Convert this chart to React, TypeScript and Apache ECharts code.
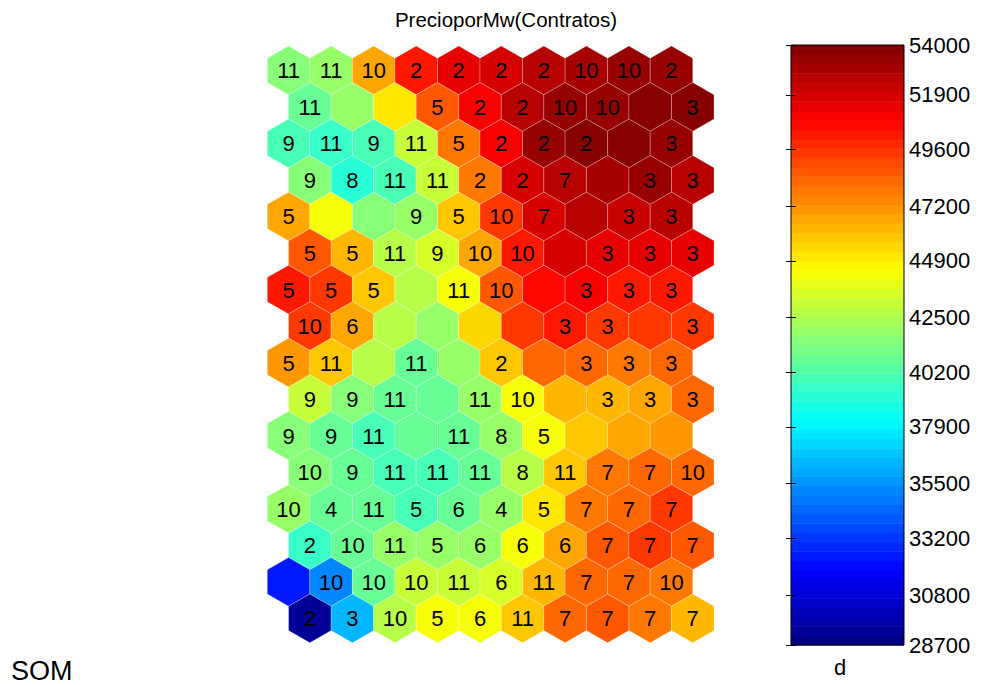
import { useEffect, useRef } from 'react';
import * as echarts from 'echarts';

// Values (d) for each SOM unit, row by row from the top; 10 units per row.
const hexValues: number[][] = [
  [41350, 42140, 46860, 50440, 51620, 52000, 52420, 53000, 53210, 53600],
  [40560, 42140, 45300, 48860, 51230, 52800, 53600, 53600, 53800, 54000],
  [40160, 39380, 40160, 43320, 47675, 51230, 53210, 53800, 54000, 53600],
  [41350, 38980, 40160, 43320, 47675, 52000, 52800, 53000, 53210, 52800],
  [46860, 44120, 41350, 41750, 45700, 49260, 52000, 52420, 52200, 52420],
  [48860, 46460, 42930, 43720, 46860, 50050, 52000, 51430, 51430, 51430],
  [50050, 49260, 46070, 42930, 44512, 48860, 50837, 51030, 50440, 50050],
  [49260, 46860, 42930, 42140, 45500, 49650, 50440, 49650, 49260, 49650],
  [47270, 46070, 42930, 40560, 41750, 46070, 48460, 48460, 47675, 48460],
  [43320, 41350, 40560, 40560, 42140, 44512, 46460, 46460, 46860, 48460],
  [41350, 40950, 40160, 40560, 40950, 41750, 44120, 45700, 46860, 47270],
  [41350, 40560, 40160, 40160, 40950, 42930, 45700, 47675, 48460, 48460],
  [42140, 40950, 40560, 40160, 40950, 42140, 45300, 47675, 48460, 49260],
  [39380, 40560, 41750, 42140, 42140, 44512, 46860, 48860, 49260, 48860],
  [32260, 35420, 40950, 43320, 43320, 43720, 46460, 48460, 48460, 48070],
  [29100, 36220, 42930, 44512, 44120, 45700, 48460, 48860, 48070, 46460],
];

// Hit labels for each unit ("" = no label).
const hexLabels: string[][] = [
  ['11', '11', '10', '2', '2', '2', '2', '10', '10', '2'],
  ['11', '', '', '5', '2', '2', '10', '10', '', '3'],
  ['9', '11', '9', '11', '5', '2', '2', '2', '', '3'],
  ['9', '8', '11', '11', '2', '2', '7', '', '3', '3'],
  ['5', '', '', '9', '5', '10', '7', '', '3', '3'],
  ['5', '5', '11', '9', '10', '10', '', '3', '3', '3'],
  ['5', '5', '5', '', '11', '10', '', '3', '3', '3'],
  ['10', '6', '', '', '', '', '3', '3', '', '3'],
  ['5', '11', '', '11', '', '2', '', '3', '3', '3'],
  ['9', '9', '11', '', '11', '10', '', '3', '3', '3'],
  ['9', '9', '11', '', '11', '8', '5', '', '', ''],
  ['10', '9', '11', '11', '11', '8', '11', '7', '7', '10'],
  ['10', '4', '11', '5', '6', '4', '5', '7', '7', '7'],
  ['2', '10', '11', '5', '6', '6', '6', '7', '7', '7'],
  ['', '10', '10', '10', '11', '6', '11', '7', '7', '10'],
  ['2', '3', '10', '5', '6', '11', '7', '7', '7', '7'],
];

const colorMin = 28700;
const colorMax = 54000;
const colorbarTicks = [28700, 30800, 33200, 35500, 37900, 40200, 42500, 44900, 47200, 49600, 51900, 54000];

const title = 'PrecioporMw(Contratos)';
const NLEVELS = 64;
const FONT = "'Liberation Sans', Arial, Helvetica, sans-serif";

function clamp(v: number) {
  return Math.max(0, Math.min(1, v));
}
function jet(t: number): string {
  const r = clamp(1.5 - Math.abs(4 * t - 3));
  const g = clamp(1.5 - Math.abs(4 * t - 2));
  const b = clamp(1.5 - Math.abs(4 * t - 1));
  const h = (x: number) => Math.round(x * 255).toString(16).padStart(2, '0');
  return '#' + h(r) + h(g) + h(b);
}
function levelColor(idx: number) {
  return jet((idx + 0.5) / NLEVELS);
}
function valueLevel(v: number) {
  const t = (v - colorMin) / (colorMax - colorMin);
  return Math.max(0, Math.min(NLEVELS - 1, Math.floor(t * NLEVELS)));
}

const SQ3 = Math.sqrt(3);
const ROWH = SQ3 / 2;
const RV = 1 / SQ3;

export default function App() {
  const ref = useRef<HTMLDivElement>(null);
  useEffect(() => {
    if (!ref.current) return;
    const chart = echarts.init(ref.current, undefined, { renderer: 'svg' });

    const hexData: any[] = [];
    hexValues.forEach((row, r) => {
      row.forEach((v, c) => {
        hexData.push([c + (r % 2 ? 0.5 : 0), r * ROWH, v, hexLabels[r][c]]);
      });
    });
    const bandData = Array.from({ length: NLEVELS }, (_, i) => [i]);
    const span = colorMax - colorMin;

    const option: any = {
      animation: false,
      backgroundColor: '#ffffff',
      grid: [
        { left: 267.3, top: 46, width: 446.7, height: 596.7, show: false },
        {
          left: 791, top: 45, width: 113, height: 600, show: true,
          borderColor: '#000', borderWidth: 1, backgroundColor: 'transparent', z: 10,
        },
      ],
      xAxis: [
        { gridIndex: 0, type: 'value', min: -0.5, max: 10, show: false },
        { gridIndex: 1, type: 'value', min: 0, max: 1, show: false },
      ],
      yAxis: [
        {
          gridIndex: 0, type: 'value', min: -RV, max: 15 * ROWH + RV, inverse: true, show: false,
        },
        {
          gridIndex: 1, type: 'value', position: 'right', min: colorMin, max: colorMax,
          axisLine: { show: false },
          splitLine: { show: false },
          axisTick: {
            show: true, inside: true, length: 5, customValues: colorbarTicks,
            lineStyle: { color: '#000', width: 1 },
          },
          axisLabel: {
            show: true, customValues: colorbarTicks, margin: 5, fontSize: 22,
            color: '#000', fontFamily: FONT,
            formatter: (v: number) => String(v),
          },
          z: 11,
        },
        {
          gridIndex: 1, type: 'value', position: 'left', min: colorMin, max: colorMax,
          axisLine: { show: false },
          splitLine: { show: false },
          axisTick: {
            show: true, inside: true, length: 5, customValues: colorbarTicks,
            lineStyle: { color: '#000', width: 1 },
          },
          axisLabel: { show: false },
          z: 11,
        },
      ],
      series: [
        {
          type: 'custom',
          xAxisIndex: 0,
          yAxisIndex: 0,
          clip: false,
          encode: { x: 0, y: 1 },
          data: hexData,
          renderItem: (params: any, api: any) => {
            const x = api.value(0);
            const y = api.value(1);
            const v = api.value(2);
            const idx = params.dataIndex;
            const label = hexData[idx][3];
            const verts = [
              [x, y - RV], [x + 0.5, y - RV / 2], [x + 0.5, y + RV / 2],
              [x, y + RV], [x - 0.5, y + RV / 2], [x - 0.5, y - RV / 2],
            ].map((p) => api.coord(p));
            const c = api.coord([x, y]);
            const children: any[] = [
              {
                type: 'polygon',
                shape: { points: verts },
                style: {
                  fill: levelColor(valueLevel(v)),
                  stroke: 'rgba(255,255,255,0.35)',
                  lineWidth: 0.7,
                },
              },
            ];
            if (label) {
              children.push({
                type: 'text',
                style: {
                  text: label, x: c[0], y: c[1] + 0.5, align: 'center', verticalAlign: 'middle',
                  fontSize: 22, fill: '#000', fontFamily: FONT,
                },
              });
            }
            return { type: 'group', children };
          },
        },
        {
          type: 'custom',
          xAxisIndex: 1,
          yAxisIndex: 1,
          clip: false,
          encode: { y: 0 },
          data: bandData,
          renderItem: (params: any, api: any) => {
            const i = bandData[params.dataIndex][0];
            const lo = colorMin + (i * span) / NLEVELS;
            const hi = colorMin + ((i + 1) * span) / NLEVELS;
            const p1 = api.coord([0, hi]);
            const p2 = api.coord([1, lo]);
            return {
              type: 'rect',
              shape: { x: p1[0], y: p1[1], width: p2[0] - p1[0], height: p2[1] - p1[1] + 0.5 },
              style: { fill: levelColor(i), stroke: null },
            };
          },
        },
      ],
      graphic: [
        {
          type: 'text',
          style: {
            text: title, x: 506, y: 19, align: 'center', verticalAlign: 'middle',
            fontSize: 20.5, fill: '#000', fontFamily: FONT,
          },
        },
        {
          type: 'text',
          style: {
            text: 'SOM', x: 11, y: 671, align: 'left', verticalAlign: 'middle',
            fontSize: 27, fill: '#000', fontFamily: FONT,
          },
        },
        {
          type: 'text',
          style: {
            text: 'd', x: 840, y: 667, align: 'center', verticalAlign: 'middle',
            fontSize: 22, fill: '#000', fontFamily: FONT,
          },
        },
      ],
    };
    chart.setOption(option);
    return () => chart.dispose();
  }, []);
  return (
    <div
      ref={ref}
      style={{ position: 'fixed', left: 0, top: 0, width: 984, height: 685, background: '#fff' }}
    />
  );
}
